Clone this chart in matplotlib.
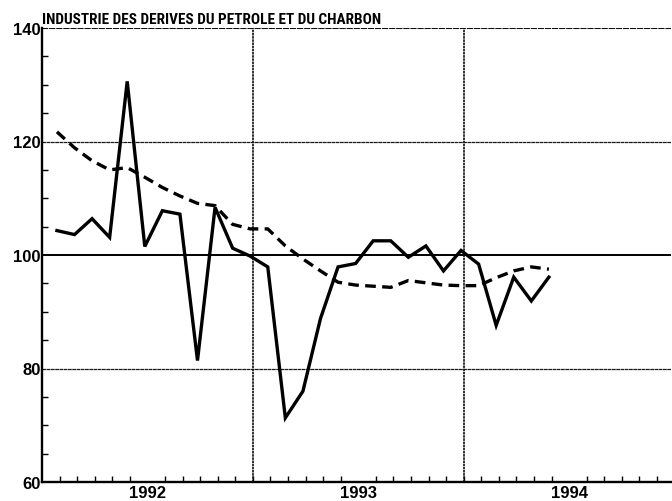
import numpy as np
import matplotlib
matplotlib.use("Agg")
import matplotlib.pyplot as plt
from matplotlib import font_manager


# monthly index values, Jan 1992 .. May 1994
months = np.arange(29)

indice = [104.3, 103.6, 106.4, 103.1, 130.6, 101.5, 107.8, 107.2, 81.4, 108.4,
          101.2, 99.8, 97.9, 71.3, 76.0, 88.8, 97.9, 98.5, 102.5, 102.5,
          99.6, 101.6, 97.2, 100.8, 98.4, 87.6, 96.1, 91.9, 96.1]

tendance = [121.7, 118.9, 116.6, 115.0, 115.4, 113.7, 111.9, 110.4, 109.1, 108.7,
            105.4, 104.6, 104.6, 101.6, 99.3, 97.2, 95.2, 94.7, 94.5, 94.3,
            95.5, 95.1, 94.7, 94.6, 94.6, 96.0, 97.2, 97.9, 97.5]

years = ["1992", "1993", "1994"]
y_ticks = [60, 80, 100, 120, 140]
title = "INDUSTRIE DES DERIVES DU PETROLE ET DU CHARBON"


# narrow bold face for the title if one is installed
title_font, title_stretch, title_size = "Liberation Sans", "normal", 9.2
fonts = font_manager.fontManager.ttflist
names = {f.name for f in fonts}
for cand in ["Liberation Sans Narrow", "Roboto Condensed", "Open Sans Condensed"]:
    if cand in names:
        title_font, title_size = cand, 11
        break
else:
    if any(f.name == "DejaVu Sans" and "condensed" in str(f.stretch) for f in fonts):
        title_font, title_stretch, title_size = "DejaVu Sans", "condensed", 10

plt.rcParams["font.family"] = ["Liberation Sans", "DejaVu Sans"]

fig = plt.figure(figsize=(6.72, 5.02), dpi=100)
ax = fig.add_axes([42 / 672, 19 / 502, 629 / 672, 454 / 502])

x = months + 0.85
ax.plot(x, indice, color="black", lw=2.4, solid_joinstyle="miter", zorder=3)
ax.plot(x, tendance, color="black", lw=2.4, linestyle=(0, (3.2, 1.9)), zorder=3)

# grid
ax.axhline(100, color="black", lw=1.4, zorder=2)
for v in (80, 120):
    ax.axhline(v, color="#1a1a1a", lw=0.9, linestyle=(0, (3, 0.4)), zorder=2)
ax.axhline(140, color="#111111", lw=1.5, linestyle=(0, (3, 0.4)), zorder=2)
for v in (12, 24):
    ax.axvline(v, color="#111111", lw=1.2, linestyle=(0, (1.5, 0.4)), zorder=2)

ax.set_xlim(0, 35.8)
ax.set_ylim(60, 140)

ax.spines["top"].set_visible(False)
ax.spines["right"].set_visible(False)
ax.spines["left"].set_linewidth(1.7)
ax.spines["bottom"].set_linewidth(1.7)

ax.set_yticks(y_ticks)
ax.set_yticklabels([str(v) for v in y_ticks], fontsize=12, fontweight="bold")
ax.set_yticks(np.arange(60, 141, 5), minor=True)
ax.tick_params(axis="y", which="major", length=0, pad=1)
ax.tick_params(axis="y", which="minor", direction="in", length=4, width=1)

ax.set_xticks([6, 18, 30])
ax.set_xticklabels(years, fontsize=12, fontweight="bold")
ax.set_xticks(np.arange(1, 36), minor=True)
ax.tick_params(axis="x", which="major", length=0, pad=2)
ax.tick_params(axis="x", which="minor", direction="in", length=4, width=1)

ax.text(0, 140.3, title, fontsize=title_size, fontweight="bold",
        fontstretch=title_stretch, family=[title_font, "DejaVu Sans"],
        ha="left", va="bottom")

fig.savefig("out.png", dpi=100)
plt.close()
